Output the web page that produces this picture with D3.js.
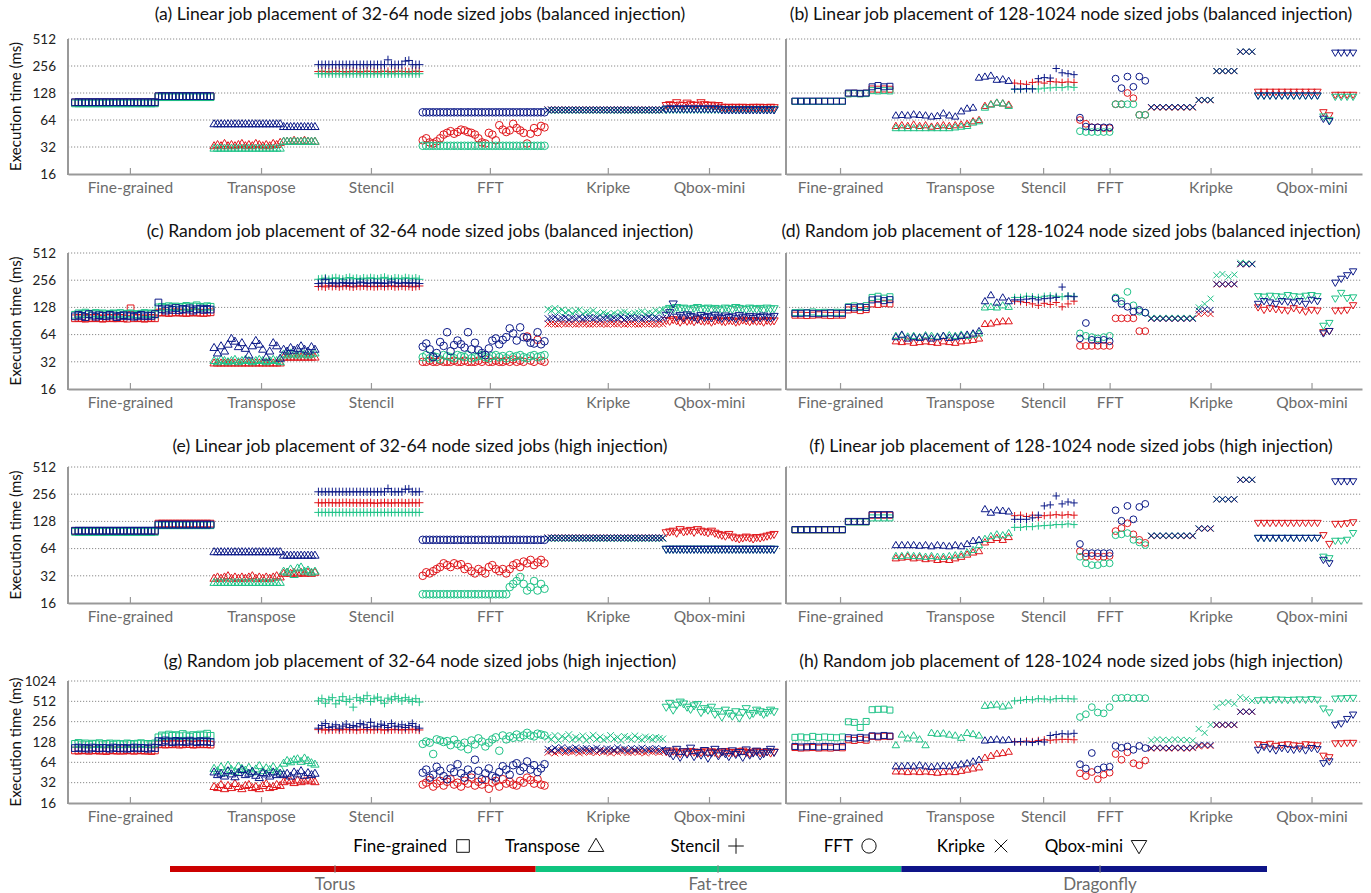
<!DOCTYPE html>
<html>
<head>
<meta charset="utf-8">
<script src="https://cdn.jsdelivr.net/npm/d3@7"></script>
<style>
  body { margin: 0; background: #fff; }
  svg { display: block; }
  text { font-family: Lato, "Open Sans", sans-serif; }
</style>
</head>
<body>
<svg id="chart" width="1371" height="893"></svg>
<script>
// categories, networks and tick positions (job index)
var categories = ["Fine-grained", "Transpose", "Stencil", "FFT", "Kripke", "Qbox-mini"];
var networks = ["Torus", "Fat-tree", "Dragonfly"];
var leftCounts = [40, 30, 30, 36, 34, 32];
var rightCounts = [17, 20, 11, 12, 18, 17];
var leftTicks = [15.8, 53.5, 85.1, 119.3, 153.2, 182.3];
var rightTicks = [7.6, 27.8, 41.8, 53.0, 70.0, 87.0];
var yTicks = [16, 32, 64, 128, 256, 512];
var yTicksTall = [16, 32, 64, 128, 256, 512, 1024];
var titles = [
  "(a) Linear job placement of 32-64 node sized jobs (balanced injection)",
  "(b) Linear job placement of 128-1024 node sized jobs (balanced injection)",
  "(c) Random job placement of 32-64 node sized jobs (balanced injection)",
  "(d) Random job placement of 128-1024 node sized jobs (balanced injection)",
  "(e) Linear job placement of 32-64 node sized jobs (high injection)",
  "(f) Linear job placement of 128-1024 node sized jobs (high injection)",
  "(g) Random job placement of 32-64 node sized jobs (high injection)",
  "(h) Random job placement of 128-1024 node sized jobs (high injection)"
];

// ---- (a) linear, 32-64, balanced (ms per job, grouped by category)
var aTorus = [
  [100,100,100,100,100,100,100,100,100,100,100,100,100,100,100,100,100,100,100,100,100,100,100,100,
   117,117,117,117,117,117,117,117,117,117,117,117,117,117,117,117],
  [33,34,33,35,33,34,33,34,35,33,34,33,35,34,33,34,33,35,34,36, 37,37,37,38,37,37,38,37,37,37],
  [222,224,222,220,222,224,222,222,220,222,224,222,220,222,224,222,222,220,222,224,222,220,222,224,222,222,220,222,224,222],
  [38,40,36,35,37,40,44,46,48,45,47,50,49,47,46,44,40,36,35,46,44,38,56,50,47,49,58,52,49,46,35,45,52,47,55,53],
  [83,83,83,83,83,83,83,83,83,83,83,83,83,83,83,83,83,83,83,83,83,83,83,83,83,83,83,83,83,83,83,83,83,83],
  [93,95,93,100,94,93,99,95,93,94,100,95,93,94,92,93, 89,88,89,88,89,88,89,88,88,89,88,89,88,88,89,88]
];
var aFat = [
  [98,98,98,98,98,98,98,98,98,98,98,98,98,98,98,98,98,98,98,98,98,98,98,98,
   115,115,115,115,115,115,115,115,115,115,115,115,115,115,115,115],
  [31,31,31,31,31,31,31,31,31,31,31,31,31,31,31,31,31,31,31,31, 37,37,37,37,37,37,37,37,37,37],
  [210,210,210,210,210,210,210,210,210,210,210,210,210,210,210,210,210,210,210,210,210,210,210,210,210,210,210,210,210,210],
  [33,33,33,33,33,33,33,33,33,33,33,33,33,33,33,33,33,33,33,33,33,33,33,33,33,33,33,33,33,33,33,33,33,33,33,33],
  [82,82,82,82,82,82,82,82,82,82,82,82,82,82,82,82,82,82,82,82,82,82,82,82,82,82,82,82,82,82,82,82,82,82],
  [84,84,84,84,84,84,84,84,84,84,84,84,84,84,84,84,84,84,84,84,84,84,84,84,84,84,84,84,84,84,84,84]
];
var aDragon = [
  [101,101,101,101,101,101,101,101,101,101,101,101,101,101,101,101,101,101,101,101,101,101,101,101,
   118,118,118,118,118,118,118,118,118,118,118,118,118,118,118,118],
  [58,58,58,58,58,58,58,58,58,58,58,58,58,58,58,58,58,58,58,58, 54,54,54,54,54,54,54,54,54,54],
  [265,265,265,265,265,265,265,265,265,265,265,265,265,265,265,265,265,265,265,265,300,265,265,265,265,290,295,265,265,265],
  [78,78,78,78,78,78,78,78,78,78,78,78,78,78,78,78,78,78,78,78,78,78,78,78,78,78,78,78,78,78,78,78,78,78,78,78],
  [83,83,83,83,83,83,83,83,83,83,83,83,83,83,83,83,83,83,83,83,83,83,83,83,83,83,83,83,83,83,83,83,83,83],
  [85,85,85,85,85,85,85,85,85,85,85,85,85,85,85,85, 83,83,83,83,83,83,83,83,83,83,83,83,83,83,83,83]
];

// ---- (b) linear, 128-1024, balanced
var bTorus = [
  [103,103,103,103,103,103,103,103,103,126,127,126,127,142,141,142,141],
  [55,56,55,57,55,56,54,55,56,55,56,57,58,62,64,92,96,100,98,95],
  [165,162,160,168,170,165,172,170,168,170,168],
  [64,58,53,53,52,52,96,96,128,112,73,73],
  [88,88,88,88,88,88,88,88,106,106,106,224,224,224,224,368,368,368],
  [132,132,132,132,132,132,132,132,132,132,132,78,72,122,122,122,122]
];
var bFat = [
  [103,103,103,103,103,103,103,103,103,125,126,125,126,136,135,136,135],
  [52,52,52,52,52,52,52,52,52,52,53,54,55,60,62,88,95,100,98,92],
  [140,140,142,143,142,145,146,148,147,150,148],
  [48,47,47,47,47,47,96,96,96,96,73,73],
  [89,89,89,89,89,89,89,89,107,107,107,225,225,225,225,370,370,370],
  [119,119,119,119,119,119,119,119,119,119,119,70,64,116,116,116,116]
];
var bDragon = [
  [104,104,104,104,104,104,104,104,104,128,128,127,128,150,155,150,152],
  [72,73,72,74,73,72,70,71,76,72,70,80,86,88,190,195,200,180,182,175],
  [142,142,143,142,185,190,188,240,215,210,205],
  [68,54,53,53,53,53,185,145,195,150,195,175],
  [89,89,89,89,89,89,89,89,107,107,107,225,225,225,225,370,370,370],
  [120,120,120,120,120,120,120,120,120,120,120,66,62,360,360,360,360]
];

// ---- (c) random, 32-64, balanced
var cTorus = [
  [97,98,97,96,98,97,98,97,96,97,98,97,97,98,97,96,125,97,98,97,96,97,98,97,
   112,113,112,111,112,113,112,112,111,112,113,112,112,111,112,113],
  [31,31,31,31,31,31,31,31,31,31,31,31,31,31,31,31,31,31,31,31, 36,36,36,36,36,36,36,36,36,36],
  [218,220,216,222,219,221,217,220,223,218,216,221,219,222,218,220,217,219,221,218,220,222,217,219,221,218,220,216,219,221],
  [32,32,33,32,32,33,32,32,32,33,32,32,33,32,32,32,33,32,34,32,32,33,32,32,33,32,34,32,33,32,61,33,32,56,33,32],
  [84,85,84,83,85,84,84,85,83,84,85,84,83,84,85,84,84,83,85,84,84,85,83,84,85,84,83,84,85,84,84,83,85,84],
  [92,90,94,91,88,93,90,92,89,94,91,90,92,88,91,93,90,89,92,91,88,90,93,91,89,92,90,91,88,92,90,91]
];
var cFat = [
  [106,110,108,112,107,109,111,108,110,107,109,110,108,111,107,109,110,108,106,109,111,108,110,107,
   128,130,127,132,129,131,128,130,133,129,131,135,130,128,132,130],
  [33,32,34,33,32,33,34,32,33,34,33,32,33,34,33,32,33,34,33,32, 39,38,40,39,38,40,39,38,39,40],
  [262,265,270,260,268,272,266,262,270,274,265,268,262,270,266,272,268,264,270,275,266,262,270,268,264,272,268,265,270,262],
  [36,38,35,37,36,34,38,37,36,35,38,37,36,38,35,36,37,38,36,35,37,38,36,37,35,38,36,37,38,36,35,37,38,36,37,38],
  [122,118,125,115,120,112,118,110,116,120,108,114,112,118,110,106,112,108,104,110,106,112,114,108,106,110,112,115,108,112,110,118,114,120],
  [120,125,122,128,124,126,123,120,125,128,122,124,126,121,125,123,120,126,124,122,128,125,123,121,126,124,122,125,120,126,123,124]
];
var cDragon = [
  [102,106,103,100,108,104,101,105,103,102,106,104,100,103,105,102,104,101,103,106,102,104,103,108,
   145,122,118,124,120,126,119,123,121,125,118,122,124,120,123,121],
  [46,40,48,42,50,58,54,47,52,45,38,48,55,50,44,36,42,52,48,35, 44,42,46,43,45,48,44,42,47,44],
  [235,238,262,236,240,234,238,242,236,240,235,238,244,240,236,238,242,236,240,235,238,245,240,236,238,242,236,240,238,235],
  [47,51,44,36,40,53,48,68,42,49,55,50,46,68,44,52,43,40,38,45,55,58,50,56,60,75,66,55,77,60,59,52,51,68,50,54],
  [96,98,100,95,97,99,94,98,96,100,95,97,99,96,98,94,97,99,95,98,96,100,94,97,99,96,98,95,97,100,96,98,95,97],
  [105,112,140,100,104,98,106,102,100,96,104,99,102,98,105,100,97,103,99,101,96,104,100,98,102,97,101,99,103,100,98,102]
];

// ---- (d) random, 128-1024, balanced
var dTorus = [
  [105,105,104,105,106,105,104,105,105,120,122,118,121,140,138,142,140],
  [54,53,54,52,53,54,53,52,54,53,52,54,55,56,58,84,85,88,90,90],
  [150,148,145,140,135,142,138,145,130,140,150],
  [48,48,48,48,48,48,97,97,97,97,70,70],
  [96,96,96,96,96,96,96,96,108,110,108,230,230,230,230,385,385,385],
  [128,120,125,122,120,118,125,120,115,120,118,68,70,118,118,120,135]
];
var dFat = [
  [112,113,112,114,112,113,112,113,112,130,133,128,134,165,170,162,168],
  [62,63,61,62,60,63,62,61,62,63,62,64,62,64,66,128,130,128,135,130],
  [165,165,170,168,165,170,172,170,168,172,170],
  [66,62,60,58,60,62,165,150,190,135,115,112],
  [98,98,98,98,98,98,98,98,128,140,160,290,300,280,295,400,395,390],
  [170,168,172,170,168,175,170,168,172,175,170,80,86,160,185,162,165]
];
var dDragon = [
  [110,110,111,110,109,110,111,110,110,128,127,130,128,155,158,152,156],
  [60,64,58,60,59,61,58,60,62,59,60,62,64,66,70,150,175,145,165,150],
  [155,155,158,160,155,160,162,165,215,170,168],
  [58,86,56,55,56,54,160,140,130,115,120,112],
  [96,96,96,96,96,96,96,96,118,122,120,232,232,232,232,385,385,385],
  [140,150,145,140,150,148,145,150,140,155,150,66,70,240,265,290,320]
];

// ---- (e) linear, 32-64, high injection
var eTorus = [
  [100,100,100,100,100,100,100,100,100,100,100,100,100,100,100,100,100,100,100,100,100,100,100,100,
   121,121,121,121,121,121,121,121,121,121,121,121,121,121,121,121],
  [30,31,30,31,32,30,31,30,31,30,31,32,30,31,30,31,30,31,32,31, 34,35,34,35,34,35,34,35,34,35],
  [206,205,206,207,205,206,205,206,207,205,206,205,206,204,205,206,203,204,205,206,205,204,206,205,206,204,205,206,205,206],
  [32,35,34,36,38,40,44,42,40,44,42,43,38,40,36,34,38,36,34,40,42,38,36,38,34,38,42,44,40,46,44,48,42,45,48,44],
  [84,84,84,84,84,84,84,84,84,84,84,84,84,84,84,84,84,84,84,84,84,84,84,84,84,84,84,84,84,84,84,84,84,84],
  [96,98,100,95,104,98,100,102,97,104,100,98,96,100,95,92, 90,88,92,86,84,82,84,86,84,82,85,84,86,88,90,92]
];
var eFat = [
  [98,98,98,98,98,98,98,98,98,98,98,98,98,98,98,98,98,98,98,98,98,98,98,98,
   116,116,116,116,116,116,116,116,116,116,116,116,116,116,116,116],
  [27,27,27,27,27,27,27,27,27,27,27,27,27,27,27,27,27,27,27,27, 36,35,38,33,39,40,36,37,35,36],
  [161,161,161,161,161,161,161,161,161,161,161,161,161,161,161,161,161,161,161,161,161,161,161,161,161,161,161,161,161,161],
  [20,20,20,20,20,20,20,20,20,20,20,20,20,20,20,20,20,20,20,20,20,20,20,20,20, 24,26,28,31,26,22,24,28,22,26,23],
  [83,83,83,83,83,83,83,83,83,83,83,83,83,83,83,83,83,83,83,83,83,83,83,83,83,83,83,83,83,83,83,83,83,83],
  [63,63,63,63,63,63,63,63,63,63,63,63,63,63,63,63,63,63,63,63,63,63,63,63,63,63,63,63,63,63,63,63]
];
var eDragon = [
  [101,101,101,101,101,101,101,101,101,101,101,101,101,101,101,101,101,101,101,101,101,101,101,101,
   118,118,118,118,118,118,118,118,118,118,118,118,118,118,118,118],
  [59,59,59,59,59,59,59,59,59,59,59,59,59,59,59,59,59,59,59,59, 54,54,54,54,54,54,54,54,54,54],
  [272,272,272,272,272,272,272,272,272,272,272,272,272,272,272,272,272,272,272,272,295,272,272,272,272,290,292,272,272,272],
  [80,80,80,80,80,80,80,80,80,80,80,80,80,80,80,80,80,80,80,80,80,80,80,80,80,80,80,80,80,80,80,80,80,80,80,80],
  [84,84,84,84,84,84,84,84,84,84,84,84,84,84,84,84,84,84,84,84,84,84,84,84,84,84,84,84,84,84,84,84,84,84],
  [63,63,63,63,63,63,63,63,63,63,63,63,63,63,63,63,63,63,63,63,63,63,63,63,63,63,63,63,63,63,63,63]
];

// ---- (f) linear, 128-1024, high injection
var fTorus = [
  [103,103,103,103,103,103,103,103,103,127,127,127,127,150,150,150,150],
  [50,51,52,50,51,49,50,48,49,48,50,52,55,58,60,75,80,84,80,86],
  [148,150,145,150,142,148,150,152,150,152,150],
  [60,52,53,52,52,53,100,108,122,92,80,74],
  [88,88,88,88,88,88,88,88,106,106,106,224,224,224,224,368,368,368],
  [123,123,123,123,123,123,123,123,123,123,123,90,72,120,120,122,125]
];
var fFat = [
  [103,103,103,103,103,103,103,103,103,126,126,126,126,140,140,140,140],
  [53,53,54,53,53,52,53,52,52,53,54,55,58,62,70,82,88,92,90,95],
  [110,110,112,112,114,115,116,118,118,120,118],
  [52,44,42,42,44,44,90,92,95,80,75,70],
  [89,89,89,89,89,89,89,89,107,107,107,225,225,225,225,370,370,370],
  [84,84,84,84,84,84,84,84,84,84,84,52,50,78,78,80,95]
];
var fDragon = [
  [104,104,104,104,104,104,104,104,104,128,128,128,128,152,152,152,152],
  [70,70,70,70,69,70,68,70,69,68,70,68,72,78,80,175,160,170,168,165],
  [135,135,135,140,150,190,195,245,200,210,205],
  [72,57,57,57,57,57,170,130,190,135,185,200],
  [89,89,89,89,89,89,89,89,107,107,107,225,225,225,225,370,370,370],
  [84,84,84,84,84,84,84,84,84,84,84,48,44,355,355,355,355]
];

// ---- (g) random, 32-64, high injection
var gTorus = [
  [96,95,97,96,95,96,97,95,96,94,96,97,95,96,95,97,96,95,96,97,95,96,94,96,
   118,120,117,119,118,121,117,118,120,119,117,118,120,118,119,117],
  [28,27,30,26,29,27,31,28,26,29,30,27,28,26,29,31,27,28,30,29, 33,35,34,32,35,33,34,36,34,33],
  [195,198,192,196,194,197,193,195,198,194,196,192,195,197,194,196,193,198,195,192,196,194,197,195,193,196,194,198,195,193],
  [30,32,35,28,31,34,29,33,36,30,32,28,34,31,38,29,33,30,35,26,32,34,28,36,31,33,30,29,34,32,38,35,31,36,30,29],
  [90,94,88,92,96,89,93,91,95,88,92,94,90,93,89,95,91,92,88,94,90,93,96,89,91,94,90,92,88,95,91,93,90,92],
  [92,88,94,90,86,92,89,93,91,87,90,94,88,92,90,86,91,93,89,90,88,92,94,90,87,91,93,89,90,92,88,91]
];
var gFat = [
  [120,124,118,122,117,121,119,123,118,120,122,117,121,119,118,122,120,118,121,123,119,120,118,122,
   150,160,155,165,158,162,156,168,160,154,162,158,165,160,170,158],
  [52,48,55,45,58,50,47,56,52,49,54,46,51,57,48,53,50,55,47,52, 62,68,65,70,72,66,74,68,63,60],
  [520,560,480,540,580,470,530,600,510,550,420,580,530,560,620,510,560,590,530,480,570,540,600,560,520,580,540,510,560,500],
  [120,130,125,85,140,135,128,132,115,138,120,110,125,100,135,118,145,130,110,125,140,150,95,160,140,155,148,165,150,160,175,160,155,170,165,160],
  [150,140,160,135,155,145,165,138,150,142,158,135,148,162,140,152,138,145,160,142,150,135,155,148,140,158,145,138,152,146,140,150,145,142],
  [420,480,380,450,500,470,420,390,440,460,350,400,380,420,330,360,300,380,340,310,360,290,350,400,320,340,380,360,330,350,380,360]
];
var gDragon = [
  [104,106,103,105,102,106,104,103,105,104,102,106,104,103,105,102,104,106,103,105,104,102,106,104,
   132,128,135,130,127,133,129,131,128,134,130,127,132,129,131,128],
  [46,42,44,40,48,43,39,45,50,42,44,47,41,38,45,43,40,46,42,44, 42,44,40,46,43,48,41,45,42,44],
  [205,225,240,210,215,230,205,220,235,210,225,215,240,230,210,250,220,215,235,225,210,240,220,215,230,210,225,240,215,205],
  [45,50,38,42,55,48,40,36,52,46,60,44,38,50,42,70,48,36,44,52,40,38,46,56,50,42,58,62,48,54,66,50,58,46,52,60],
  [100,96,104,98,106,95,102,99,105,97,101,103,96,100,104,98,95,102,100,97,105,99,101,96,103,98,100,104,97,101,99,103,96,100],
  [95,88,80,100,76,92,85,104,78,90,82,96,74,88,100,80,92,86,78,95,84,90,76,98,82,88,94,80,86,92,100,90]
];

// ---- (h) random, 128-1024, high injection
var hTorus = [
  [106,104,105,106,104,105,104,106,105,138,135,140,136,155,152,156,154],
  [47,47,46,47,46,47,46,45,46,47,46,48,50,52,54,75,80,86,88,92],
  [130,128,132,130,135,138,136,138,140,140,138],
  [44,40,46,36,42,45,85,70,90,62,58,68],
  [102,104,103,102,104,103,102,104,110,112,112,228,228,228,228,358,358,358],
  [118,115,120,112,116,118,114,112,118,116,114,80,76,122,122,124,124]
];
var hFat = [
  [150,152,148,155,150,152,150,148,152,255,250,210,258,385,390,392,380],
  [115,165,145,160,140,115,175,170,172,165,160,148,175,168,160,440,450,460,430,445],
  [520,530,545,540,560,555,540,560,565,560,555],
  [300,330,420,350,340,420,570,575,580,570,575,570],
  [135,140,138,136,140,138,137,135,200,175,230,420,480,500,470,590,560,520],
  [530,540,535,545,540,535,540,545,540,550,540,400,350,560,565,570,575]
];
var hDragon = [
  [110,108,109,110,108,110,109,108,110,148,146,150,147,158,156,160,157],
  [56,56,57,56,58,56,55,56,57,56,58,60,62,66,70,135,138,140,136,138],
  [128,130,128,126,130,128,160,165,170,168,172],
  [60,52,88,50,54,55,112,105,110,98,112,104],
  [104,106,105,104,106,105,104,106,115,116,115,230,230,230,230,360,360,360],
  [98,108,102,96,104,100,98,102,96,104,100,62,66,230,240,280,325]
];

var panels = [
  { row: 0, col: 0, series: [aTorus, aFat, aDragon] },
  { row: 0, col: 1, series: [bTorus, bFat, bDragon] },
  { row: 1, col: 0, series: [cTorus, cFat, cDragon] },
  { row: 1, col: 1, series: [dTorus, dFat, dDragon] },
  { row: 2, col: 0, series: [eTorus, eFat, eDragon] },
  { row: 2, col: 1, series: [fTorus, fFat, fDragon] },
  { row: 3, col: 0, series: [gTorus, gFat, gDragon] },
  { row: 3, col: 1, series: [hTorus, hFat, hDragon] }
];

// ---- layout
var rowTop = [39, 253, 467, 681],
  rowBottom = [174, 389, 603, 803],
  rowTitleY = [14, 231, 446, 661],
  colX0 = [68, 786],
  colX1 = [781, 1362],
  colTitleX = [420, 1071];

var markColor = ["#e0161b", "#1fc287", "#0c1a88"];
var barColor = ["#cc0000", "#0fc47f", "#0e1488"];
var barLabelX = [335, 718, 1100];

// open marker outlines: square, triangle, plus, circle, cross, down-triangle
function shape(k, s) {
  var a = 3 * s, b = 3.7 * s, c = 2.6 * s, r = 3.4 * s;
  switch (k) {
    case 0: return "M" + (-a) + "," + (-a) + "h" + 2 * a + "v" + 2 * a + "h" + (-2 * a) + "Z";
    case 1: return "M0," + (-b) + "L" + b + "," + c + "H" + (-b) + "Z";
    case 2: return "M" + (-b) + ",0H" + b + "M0," + (-b) + "V" + b;
    case 3: return "M" + r + ",0A" + r + "," + r + " 0 1,1 " + (-r) + ",0A" + r + "," + r + " 0 1,1 " + r + ",0Z";
    case 4: return "M" + (-a) + "," + (-a) + "L" + a + "," + a + "M" + (-a) + "," + a + "L" + a + "," + (-a);
    default: return "M0," + b + "L" + b + "," + (-c) + "H" + (-b) + "Z";
  }
}

var svg = d3.select("#chart");

panels.forEach(function(p, pi) {
  var x0 = colX0[p.col], x1 = colX1[p.col];
  var top = rowTop[p.row], bot = rowBottom[p.row];
  var ticks = p.row == 3 ? yTicksTall : yTicks;
  var counts = p.col ? rightCounts : leftCounts;
  var n = d3.sum(counts);
  var offs = [];
  counts.reduce(function(s, c) { offs.push(s); return s + c; }, 0);

  var y = d3.scaleLog().base(2).domain([16, ticks[ticks.length - 1]]).range([bot, top]);
  var x = d3.scaleLinear().domain(p.col ? [-1.5, n + 0.5] : [-2, n + 1]).range([x0, x1]);

  var g = svg.append("g");

  // dotted gridlines
  g.selectAll("line.grid")
    .data(ticks.slice(1))
    .join("line")
    .attr("x1", x0).attr("x2", x1)
    .attr("y1", function(d) { return y(d); })
    .attr("y2", function(d) { return y(d); })
    .attr("stroke", "#8a8a8a")
    .attr("stroke-width", 1)
    .attr("stroke-dasharray", "1.2,1.8");

  // y axis
  var yAxis = d3.axisLeft(y).tickValues(ticks).tickSize(0).tickPadding(12)
    .tickFormat(p.col ? "" : d3.format("d"));
  var ya = g.append("g").attr("transform", "translate(" + x0 + ",0)").call(yAxis);
  ya.select(".domain").remove();
  ya.selectAll("text").attr("font-family", "Lato, sans-serif").attr("font-size", 13.5).attr("fill", "#222");
  g.append("line").attr("x1", x0).attr("x2", x0).attr("y1", top).attr("y2", bot + 1)
    .attr("stroke", "#999").attr("stroke-width", 2);

  // x axis
  var tickIdx = p.col ? rightTicks : leftTicks;
  var xAxis = d3.axisBottom(x).tickValues(tickIdx)
    .tickFormat(function(d, i) { return categories[i]; })
    .tickSizeInner(-6).tickSizeOuter(0).tickPadding(8);
  var xa = g.append("g").attr("transform", "translate(0," + bot + ")").call(xAxis);
  xa.select(".domain").attr("stroke", "#999").attr("stroke-width", 2);
  xa.selectAll(".tick line").attr("stroke", "#999").attr("stroke-width", 1.2);
  xa.selectAll("text").attr("font-family", "Lato, sans-serif").attr("font-size", 15.5).attr("fill", "#6b6b6b");

  // title
  g.append("text")
    .attr("x", colTitleX[p.col]).attr("y", rowTitleY[p.row]).attr("dy", "0.35em")
    .attr("text-anchor", "middle").attr("font-size", 17.6).attr("fill", "#111")
    .text(titles[pi]);

  if (p.col == 0) {
    g.append("text")
      .attr("transform", "translate(16," + (top + bot) / 2 + ") rotate(-90)")
      .attr("dy", "0.35em").attr("text-anchor", "middle")
      .attr("font-size", 15).attr("fill", "#111")
      .text("Execution time (ms)");
  }

  // points
  var pts = [];
  p.series.forEach(function(cats, ni) {
    cats.forEach(function(vals, ci) {
      vals.forEach(function(v, i) {
        pts.push({ net: ni, cat: ci, idx: offs[ci] + i, v: v });
      });
    });
  });
  var s = p.col ? 1 : 1.12;
  g.append("g").selectAll("path")
    .data(pts)
    .join("path")
    .attr("transform", function(d) { return "translate(" + x(d.idx) + "," + y(d.v) + ")"; })
    .attr("d", function(d) { return shape(d.cat, s); })
    .attr("fill", "none")
    .attr("stroke", function(d) { return markColor[d.net]; })
    .attr("stroke-width", 1);
});

// ---- legend of job types
var legendEnd = [447, 580, 720, 853, 985, 1123];
var lg = svg.append("g");
categories.forEach(function(c, i) {
  lg.append("text").attr("x", legendEnd[i]).attr("y", 846).attr("dy", "0.35em")
    .attr("text-anchor", "end").attr("font-size", 17).attr("fill", "#000").text(c);
  lg.append("path").attr("transform", "translate(" + (legendEnd[i] + 16) + ",846)")
    .attr("d", shape(i, 2.1)).attr("fill", "none").attr("stroke", "#111").attr("stroke-width", 1);
});

// ---- network colour bar
var barX = d3.scaleBand().domain(networks).range([170, 1267]);
var bar = svg.append("g");
bar.selectAll("rect").data(networks).join("rect")
  .attr("x", function(d) { return barX(d); }).attr("y", 866)
  .attr("width", barX.bandwidth()).attr("height", 6)
  .attr("fill", function(d, i) { return barColor[i]; });
bar.selectAll("line").data(networks).join("line")
  .attr("x1", function(d, i) { return barLabelX[i]; })
  .attr("x2", function(d, i) { return barLabelX[i]; })
  .attr("y1", 865).attr("y2", 873).attr("stroke", "#888").attr("stroke-width", 1);
bar.selectAll("text").data(networks).join("text")
  .attr("x", function(d, i) { return barLabelX[i]; })
  .attr("y", 884).attr("dy", "0.35em").attr("text-anchor", "middle")
  .attr("font-size", 17).attr("fill", "#6b6b6b")
  .text(function(d) { return d; });
</script>
</body>
</html>
